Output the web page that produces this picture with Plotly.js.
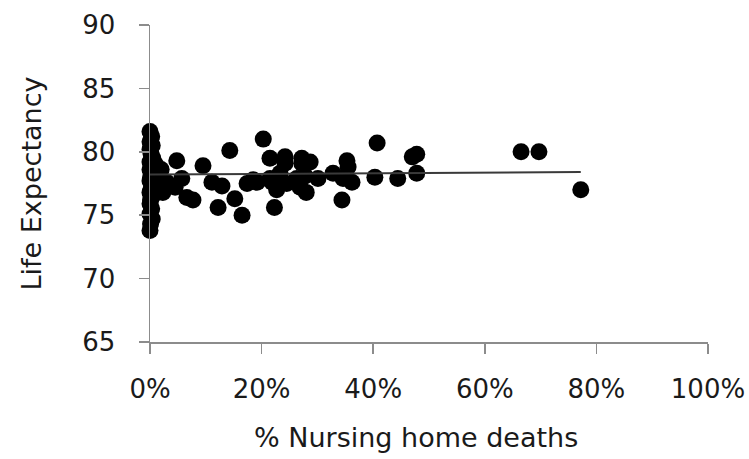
<!DOCTYPE html>
<html>
<head>
<meta charset="utf-8">
<script src="https://cdn.plot.ly/plotly-3.0.1.min.js"></script>
<style>html,body{margin:0;padding:0;background:#fff;}#chart{width:749px;height:459px;}</style>
</head>
<body>
<div id="chart"></div>
<script>
// % nursing home deaths (percent) and life expectancy (years)
var nursingPct = [
  0.0, 0.3, 0.0, 0.4, 0.0, 0.2, 0.5, 0.0, 0.3, 0.0, 0.4, 0.1, 0.0, 0.5, 0.2, 0.0, 0.4, 0.1, 0.0, 0.3, 0.0, 0.4, 0.1, 0.0,
  1.0, 1.2, 1.5, 1.0, 2.3, 2.0, 3.0, 1.8,
  4.8, 9.5, 14.3, 20.3, 21.5, 5.7, 4.5, 7.7, 6.6, 11.1, 12.9, 12.2, 15.2, 16.5, 17.4, 19.2, 21.5, 22.3,
  24.2, 27.2, 28.7, 23.3, 22.7, 26.9, 26.3, 30.1, 32.8, 35.3, 35.5, 36.2, 34.4, 40.3, 40.7,
  47.0, 47.8, 47.8, 44.4, 34.6, 21.9, 24.5, 28.0, 18.5, 24.2, 27.2, 27.8,
  66.5, 69.7, 77.2
];
var lifeExp = [
  81.6, 81.2, 80.8, 80.5, 80.2, 79.8, 79.5, 79.2, 78.9, 78.6, 78.3, 78.0, 77.7, 77.4, 77.1, 76.8, 76.5, 76.2, 75.9, 75.5, 75.1, 74.7, 74.3, 73.8,
  79.0, 78.2, 77.5, 76.9, 76.8, 78.6, 77.6, 77.9,
  79.3, 78.9, 80.1, 81.0, 79.5, 77.9, 77.2, 76.2, 76.4, 77.6, 77.3, 75.6, 76.3, 75.0, 77.5, 77.6, 77.9, 75.6,
  79.6, 79.5, 79.2, 78.3, 77.0, 77.2, 77.9, 77.9, 78.3, 79.3, 78.8, 77.6, 76.2, 78.0, 80.7,
  79.6, 79.8, 78.3, 77.9, 77.9, 77.6, 77.5, 76.8, 77.8, 79.1, 79.1, 78.1,
  80.0, 80.0, 77.0
];
// linear trendline end points
var trendX = [0, 77.2];
var trendY = [78.2, 78.4];

var xTickVals = [0, 20, 40, 60, 80, 100];
var xTickText = ['0%', '20%', '40%', '60%', '80%', '100%'];
var yTickVals = [65, 70, 75, 80, 85, 90];
var xTitle = '% Nursing home deaths';
var yTitle = 'Life Expectancy';

var font = 'DejaVu Sans, sans-serif';
var textColor = '#1a1a1a';
var axisColor = '#8c8c8c';

var data = [
  {
    x: nursingPct, y: lifeExp, type: 'scatter', mode: 'markers',
    marker: {color: '#000', size: 17, line: {width: 0}},
    cliponaxis: false,
    hoverinfo: 'x+y', showlegend: false
  },
  {
    x: trendX, y: trendY, type: 'scatter', mode: 'lines',
    line: {color: '#3a3a3a', width: 2},
    cliponaxis: false,
    showlegend: false
  }
];

var layout = {
  width: 749, height: 459,
  margin: {l: 150, r: 41, t: 25, b: 117},
  paper_bgcolor: '#fff', plot_bgcolor: '#fff',
  font: {family: font, color: textColor},
  xaxis: {
    range: [0, 100], tickvals: xTickVals, ticktext: xTickText,
    showgrid: false, zeroline: false,
    showline: true, linecolor: axisColor, linewidth: 1.5,
    ticks: 'outside', ticklen: 10, tickcolor: axisColor, tickwidth: 1.5,
    tickfont: {size: 26, family: font, color: textColor},
    ticklabelstandoff: 13,
    automargin: false
  },
  yaxis: {
    range: [65, 90], tickvals: yTickVals,
    showgrid: false, zeroline: false,
    showline: true, linecolor: axisColor, linewidth: 1.5,
    ticks: 'outside', ticklen: 10, tickcolor: axisColor, tickwidth: 1.5,
    tickfont: {size: 26, family: font, color: textColor},
    ticklabelstandoff: 18,
    title: {text: yTitle, font: {size: 27, family: font, color: textColor}, standoff: 33},
    automargin: false
  },
  annotations: [{
    text: xTitle, xref: 'paper', yref: 'paper',
    x: (416 - 150) / 558, y: (342 - 437) / 317,
    xanchor: 'center', yanchor: 'middle', showarrow: false,
    font: {size: 27, family: font, color: textColor}
  }]
};

Plotly.newPlot('chart', data, layout, {displayModeBar: false, staticPlot: true});
</script>
</body>
</html>
